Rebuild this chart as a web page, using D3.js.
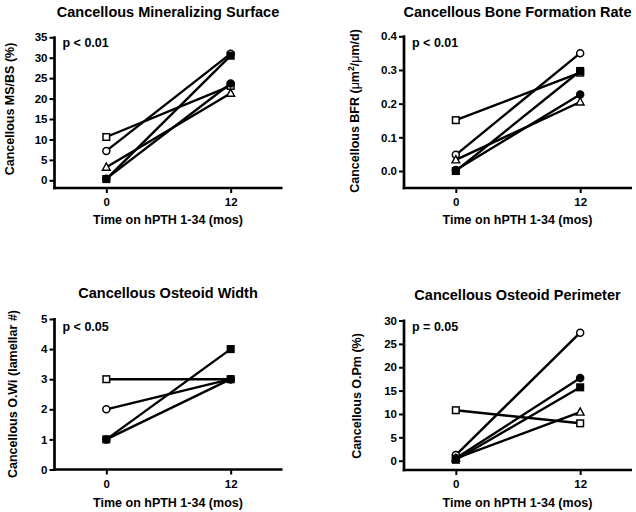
<!DOCTYPE html>
<html>
<head>
<meta charset="utf-8">
<script src="https://cdn.jsdelivr.net/npm/d3@7"></script>
<style>
  html, body { margin: 0; padding: 0; background: #fff; }
  svg { display: block; }
  text { font-family: "Liberation Sans", Arial, sans-serif; font-weight: bold; fill: #000; }
</style>
</head>
<body>
<svg id="chart" width="636" height="512"></svg>
<script>
// ---- data ----
const timePoints = [0, 12];
const xTickLabels = ["0", "12"];
const patients = ["openSquare", "openCircle", "openTriangle", "filledSquare", "filledCircle"];

const msbsMonth0  = [10.6, 7.2, 3.2, 0.3, 0.4];
const msbsMonth12 = [23.1, 31.0, 21.3, 30.5, 23.7];

const bfrMonth0  = [0.151, 0.048, 0.033, 0.0, 0.003];
const bfrMonth12 = [0.292, 0.350, 0.205, 0.297, 0.227];

const owiMonth0  = [3, 2, null, 1, 1];
const owiMonth12 = [3, 3, null, 4, 3];

const opmMonth0  = [10.8, 1.2, 0.5, 0.2, 0.5];
const opmMonth12 = [8.0, 27.4, 10.4, 15.7, 17.7];

const titles = ["Cancellous Mineralizing Surface", "Cancellous Bone Formation Rate",
                "Cancellous Osteoid Width", "Cancellous Osteoid Perimeter"];
const pLabels = ["p < 0.01", "p < 0.01", "p < 0.05", "p = 0.05"];
const xLabel = "Time on hPTH 1-34 (mos)";

const yTicksMS  = [0, 5, 10, 15, 20, 25, 30, 35];
const yTicksBFR = [0.0, 0.1, 0.2, 0.3, 0.4];
const yTicksOWi = [0, 1, 2, 3, 4, 5];
const yTicksOPm = [0, 5, 10, 15, 20, 25, 30];

// ---- layout ----
const svg = d3.select("#chart");
const panels = [
  { left: 54.5, zeroY: 180.3, topY: 37.3, axisY: 188, yMax: 35, ticks: yTicksMS, fmt: d3.format("d"),
    v0: msbsMonth0, v12: msbsMonth12, title: titles[0], titleY: 17, p: pLabels[0], pY: 47,
    ylab: "Cancellous MS/BS (%)", ylabX: 14, ylabY: 109, xlabY: 224, tickLabY: 205 },
  { left: 404, zeroY: 171, topY: 36.3, axisY: 188, yMax: 0.4, ticks: yTicksBFR, fmt: d3.format(".1f"),
    v0: bfrMonth0, v12: bfrMonth12, title: titles[1], titleY: 17, p: pLabels[1], pY: 47,
    ylab: "BFR", ylabX: 359, ylabY: 111, xlabY: 224, tickLabY: 205 },
  { left: 54.5, zeroY: 469.5, topY: 319, axisY: 469.5, yMax: 5, ticks: yTicksOWi, fmt: d3.format("d"),
    v0: owiMonth0, v12: owiMonth12, title: titles[2], titleY: 298, p: pLabels[2], pY: 331,
    ylab: "Cancellous O.Wi (lamellar #)", ylabX: 17, ylabY: 394, xlabY: 507, tickLabY: 488 },
  { left: 404, zeroY: 460.7, topY: 320.5, axisY: 470, yMax: 30, ticks: yTicksOPm, fmt: d3.format("d"),
    v0: opmMonth0, v12: opmMonth12, title: titles[3], titleY: 300, p: pLabels[3], pY: 331,
    ylab: "Cancellous O.Pm (%)", ylabX: 361, ylabY: 396, xlabY: 507, tickLabY: 488 }
];

const plotW = 228;

function drawMarker(g, kind, cx, cy) {
  const s = 6.6;
  if (kind === "openSquare" || kind === "filledSquare") {
    g.append("rect").attr("x", cx - s/2).attr("y", cy - s/2).attr("width", s).attr("height", s)
      .attr("fill", kind === "filledSquare" ? "#000" : "#fff").attr("stroke", "#000").attr("stroke-width", 1.5);
  } else if (kind === "openCircle" || kind === "filledCircle") {
    g.append("circle").attr("cx", cx).attr("cy", cy).attr("r", 3.5)
      .attr("fill", kind === "filledCircle" ? "#000" : "#fff").attr("stroke", "#000").attr("stroke-width", 1.5);
  } else {
    g.append("path").attr("d", `M${cx},${cy - 4.2}L${cx + 3.9},${cy + 3}L${cx - 3.9},${cy + 3}Z`)
      .attr("fill", "#fff").attr("stroke", "#000").attr("stroke-width", 1.4);
  }
}

panels.forEach(P => {
  const x = d3.scaleLinear().domain([-5, 17]).range([P.left, P.left + plotW]);
  const y = d3.scaleLinear().domain([0, P.yMax]).range([P.zeroY, P.topY]);
  const g = svg.append("g");

  // y axis
  const yAxis = d3.axisLeft(y).tickValues(P.ticks).tickFormat(P.fmt).tickSize(5).tickPadding(2);
  const ya = g.append("g").attr("transform", `translate(${P.left},0)`).call(yAxis);
  ya.select(".domain").remove();
  ya.selectAll(".tick line").attr("stroke", "#000").attr("stroke-width", 2);
  ya.selectAll(".tick text").style("font-size", "11.5px").style("font-family", "Liberation Sans, Arial, sans-serif")
    .style("font-weight", "bold");
  g.append("line").attr("x1", P.left).attr("x2", P.left).attr("y1", P.topY - 1).attr("y2", P.axisY + 1.3)
    .attr("stroke", "#000").attr("stroke-width", 2.7);

  // x axis
  const xAxis = d3.axisBottom(x).tickValues(timePoints).tickFormat((d, i) => xTickLabels[i]).tickSize(5).tickPadding(5);
  const xa = g.append("g").attr("transform", `translate(0,${P.axisY})`).call(xAxis);
  xa.select(".domain").remove();
  xa.selectAll(".tick line").attr("stroke", "#000").attr("stroke-width", 2);
  xa.selectAll(".tick text").style("font-size", "11.5px").style("font-family", "Liberation Sans, Arial, sans-serif")
    .style("font-weight", "bold");
  g.append("line").attr("x1", P.left - 1.3).attr("x2", P.left + plotW).attr("y1", P.axisY).attr("y2", P.axisY)
    .attr("stroke", "#000").attr("stroke-width", 2.7);

  // titles and labels
  g.append("text").attr("x", P.left + plotW / 2 - 0.5).attr("y", P.titleY).attr("text-anchor", "middle")
    .style("font-size", "14.5px").text(P.title);
  g.append("text").attr("x", P.left + 8).attr("y", P.pY).style("font-size", "12.5px").text(P.p);
  g.append("text").attr("x", P.left + plotW / 2 - 0.5).attr("y", P.xlabY).attr("text-anchor", "middle")
    .style("font-size", "12.5px").text(xLabel);

  const yl = g.append("text").attr("transform", `translate(${P.ylabX},${P.ylabY}) rotate(-90)`)
    .attr("text-anchor", "middle").style("font-size", "12.5px");
  if (P.ylab === "BFR") {
    yl.append("tspan").text("Cancellous BFR (");
    yl.append("tspan").style("font-weight", "normal").text("\u03bc");
    yl.append("tspan").text("m");
    yl.append("tspan").attr("dy", -5).style("font-size", "8.5px").text("2");
    yl.append("tspan").attr("dy", 5).text("/");
    yl.append("tspan").style("font-weight", "normal").text("\u03bc");
    yl.append("tspan").text("m/d)");
  } else {
    yl.text(P.ylab);
  }

  // lines
  const line = d3.line().x(d => x(d[0])).y(d => y(d[1]));
  patients.forEach((p, i) => {
    if (P.v0[i] == null) return;
    g.append("path").attr("d", line([[timePoints[0], P.v0[i]], [timePoints[1], P.v12[i]]]))
      .attr("fill", "none").attr("stroke", "#000").attr("stroke-width", 2.4);
  });
  // markers
  patients.forEach((p, i) => {
    if (P.v0[i] == null) return;
    drawMarker(g, p, x(timePoints[0]), y(P.v0[i]));
    drawMarker(g, p, x(timePoints[1]), y(P.v12[i]));
  });
});
</script>
</body>
</html>
